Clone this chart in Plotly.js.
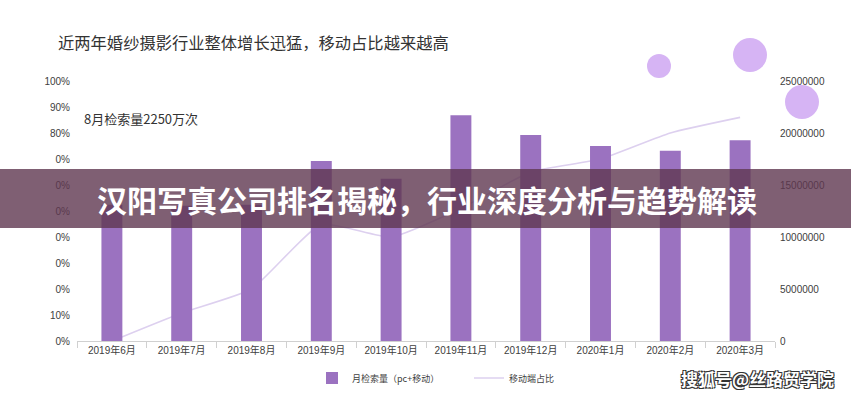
<!DOCTYPE html>
<html>
<head>
<meta charset="utf-8">
<script src="https://cdn.plot.ly/plotly-3.0.1.min.js"></script>
<style>html,body{margin:0;padding:0;background:#fff;}#chart{width:851px;height:397px;}</style>
</head>
<body>
<div id="chart"></div>
<script>
// ---- data ----
const months = ["2019年6月","2019年7月","2019年8月","2019年9月","2019年10月","2019年11月","2019年12月","2020年1月","2020年2月","2020年3月"];
const searchVolume = [13100000, 13000000, 13100000, 17300000, 15600000, 21700000, 19800000, 18750000, 18300000, 19300000];
const mobileShare = [0.00, 0.108, 0.20, 0.448, 0.40, 0.51, 0.65, 0.70, 0.80, 0.86];
const leftTickVals = [0, 0.1, 0.2, 0.3, 0.4, 0.5, 0.6, 0.7, 0.8, 0.9, 1.0];
const leftTickText = ["0%", "10%", "0%", "0%", "0%", "0%", "0%", "0%", "80%", "90%", "100%"];
const rightTickVals = [0, 5000000, 10000000, 15000000, 20000000, 25000000];
const rightTickText = ["0", "5000000", "10000000", "15000000", "20000000", "25000000"];
const seriesNames = ["月检索量（pc+移动）", "移动端占比"];
const chartTitle = "近两年婚纱摄影行业整体增长迅猛，移动占比越来越高";
const noteText = "8月检索量2250万次";
const headline = "汉阳写真公司排名揭秘，行业深度分析与趋势解读";
const watermark = "搜狐号@丝路贸学院";

// ---- layout helpers (pixel -> paper) ----
const L = 77, R = 775, T = 81, B = 341;
const px = x => (x - L) / (R - L);
const py = y => (B - y) / (B - T);

const cjk = "Noto Sans CJK SC";
const latin = "Liberation Sans, Noto Sans CJK SC";

const traces = [
  {
    type: "bar", name: seriesNames[0], x: months, y: searchVolume, yaxis: "y2",
    marker: {color: "#9b72c0"}, width: 0.3
  },
  {
    type: "scatter", mode: "lines", name: seriesNames[1], x: months, y: mobileShare, yaxis: "y",
    line: {color: "#ddd0ef", width: 1.6, shape: "spline", smoothing: 0.5}
  }
];

const bubbles = [[659, 66, 12], [750, 55, 17], [802, 102, 17]];
const shapes = bubbles.map(b => ({
  type: "circle", xref: "paper", yref: "paper", xsizemode: "pixel", ysizemode: "pixel",
  xanchor: px(b[0]), yanchor: py(b[1]), x0: -b[2], x1: b[2], y0: -b[2], y1: b[2],
  fillcolor: "#d6b4f4", line: {width: 0}, layer: "above"
}));
shapes.push({
  type: "rect", xref: "paper", yref: "paper", x0: px(0), x1: px(851), y0: py(228), y1: py(169),
  fillcolor: "rgba(95,55,80,0.80)", line: {width: 0}, layer: "above"
});

const layout = {
  width: 851, height: 397,
  margin: {l: L, r: 851 - R, t: T, b: 397 - B, pad: 0, autoexpand: false},
  paper_bgcolor: "#ffffff", plot_bgcolor: "#ffffff",
  title: {
    text: chartTitle, xref: "container", yref: "container", x: 58 / 851, xanchor: "left",
    y: 1 - 43 / 397, yanchor: "middle", font: {family: cjk, size: 16.3, color: "#333333"}
  },
  xaxis: {
    type: "category", showgrid: false, showline: true, linecolor: "#d0d0d0", linewidth: 1,
    ticks: "outside", tickson: "boundaries", ticklen: 6, tickcolor: "#d0d0d0",
    tickfont: {family: latin, size: 10, color: "#404040"}, zeroline: false
  },
  yaxis: {
    range: [0, 1], tickvals: leftTickVals, ticktext: leftTickText, showgrid: false, zeroline: false,
    showline: false, ticks: "", tickfont: {family: latin, size: 10, color: "#404040"}, ticklabelstandoff: 6
  },
  yaxis2: {
    overlaying: "y", side: "right", range: [0, 25000000], tickvals: rightTickVals, ticktext: rightTickText,
    showgrid: false, zeroline: false, showline: false, ticks: "",
    tickfont: {family: latin, size: 10, color: "#404040"}, ticklabelstandoff: 4
  },
  showlegend: true,
  legend: {
    orientation: "h", xref: "container", yref: "container", x: 312 / 851, xanchor: "left",
    y: 1 - 378 / 397, yanchor: "middle", entrywidth: 112, entrywidthmode: "pixels",
    font: {family: cjk, size: 9, color: "#404040"}, bgcolor: "rgba(0,0,0,0)", itemwidth: 30
  },
  shapes: shapes,
  annotations: [
    {text: noteText, xref: "paper", yref: "paper", x: px(82), y: py(118), xanchor: "left", yanchor: "middle",
     showarrow: false, font: {family: cjk, size: 13, color: "#333333"}},
    {text: headline, xref: "paper", yref: "paper", x: px(427), y: py(199), xanchor: "center", yanchor: "middle",
     showarrow: false, font: {family: cjk, size: 30, color: "#ffffff", weight: 700}},
    {text: watermark, xref: "paper", yref: "paper", x: px(757), y: py(378), xanchor: "center", yanchor: "middle",
     showarrow: false, font: {family: cjk, size: 17, color: "#ffffff", weight: 700,
       shadow: "1px 1px 0 #333, -1px -1px 0 #333, 1px -1px 0 #333, -1px 1px 0 #333"}}
  ]
};

Plotly.newPlot("chart", traces, layout, {displayModeBar: false, staticPlot: true});
</script>
</body>
</html>
